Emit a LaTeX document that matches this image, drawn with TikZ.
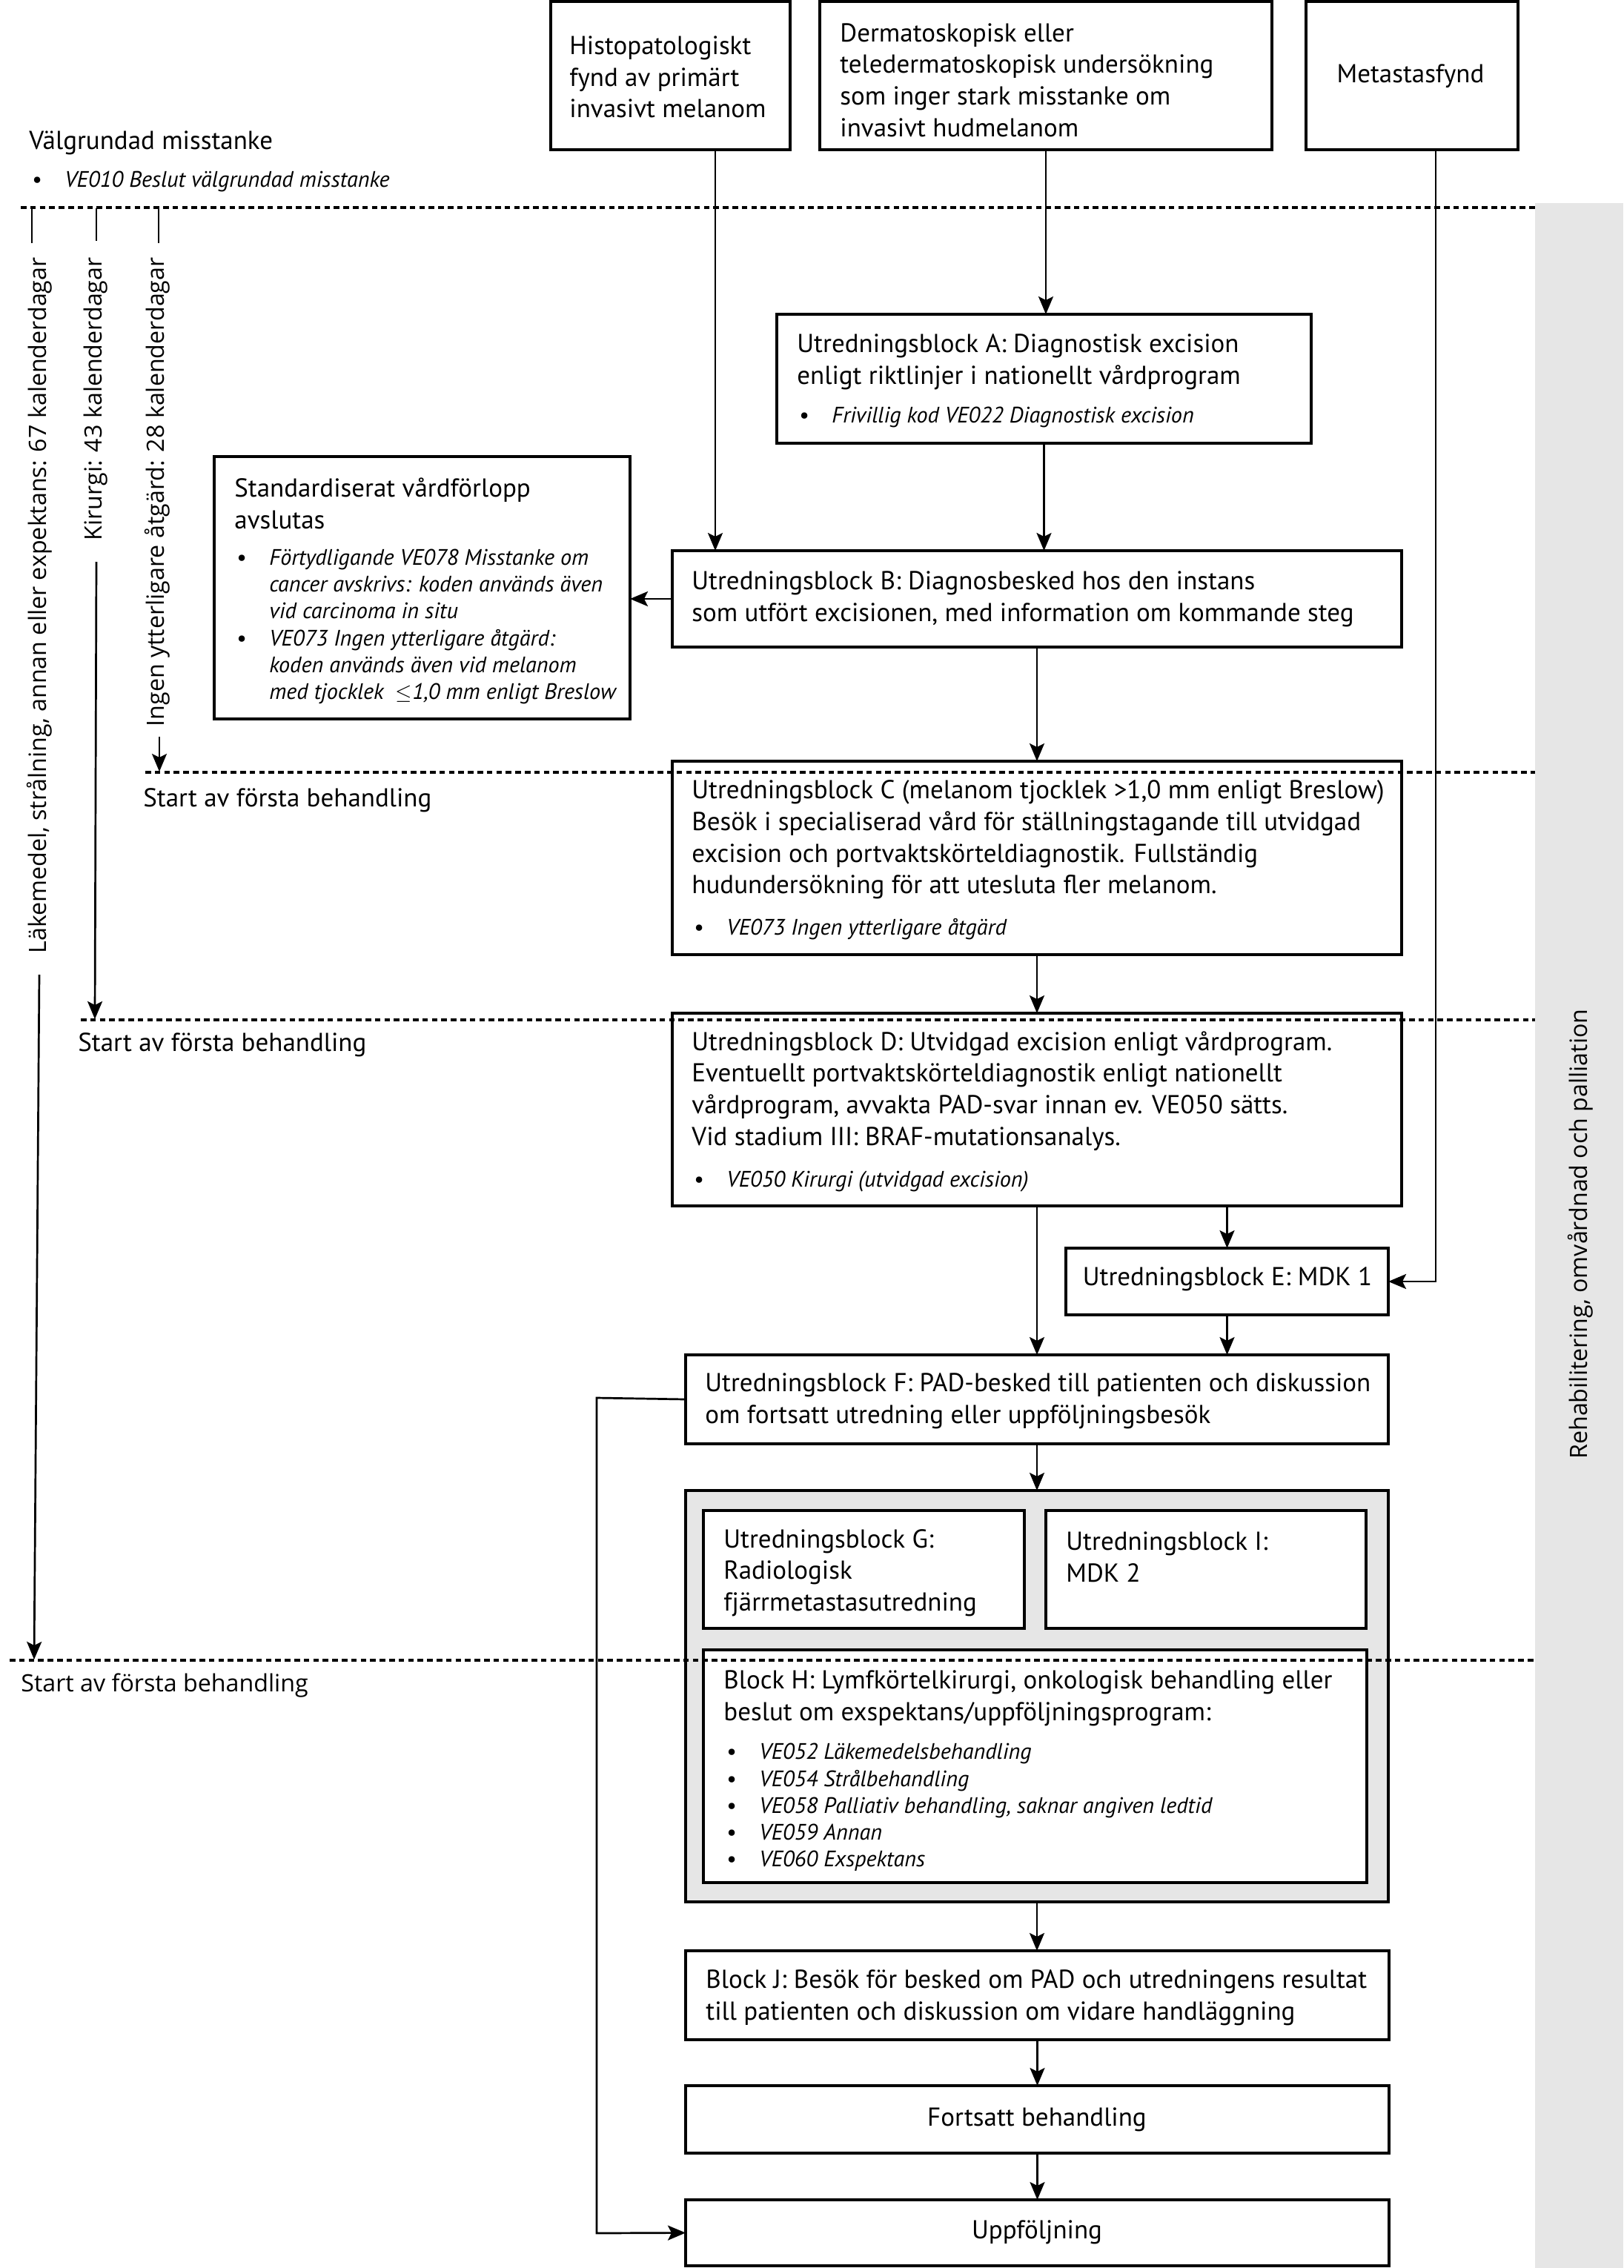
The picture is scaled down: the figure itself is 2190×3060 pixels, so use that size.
\documentclass[tikz,border=0pt]{standalone}
\usepackage{fontspec}
\setmainfont{PT Sans}
\newfontfamily\osans{Open Sans}
\usetikzlibrary{arrows.meta,fit}
\definecolor{bandgray}{HTML}{E6E6E6}
\definecolor{outergray}{HTML}{E6E6E6}
\newcommand{\bl}{\makebox[22pt][l]{\upshape •}}
\newcommand{\ind}{\hspace*{22pt}}
\begin{document}
\begin{tikzpicture}[x=0.5pt,y=-0.5pt,
  boxnode/.style={draw, line width=2pt, fill=white, inner sep=0pt, outer sep=0pt},
  bandnode/.style={fill=bandgray, draw=none, inner sep=0pt},
  maintxt/.style={font=\fontsize{17.5}{21.3}\selectfont, align=left, inner sep=0pt, anchor=west},
  ctrtxt/.style={font=\fontsize{17.5}{21.3}\selectfont, align=center, inner sep=0pt},
  itxt/.style={font=\fontsize{15.1}{18.1}\selectfont\itshape, align=left, inner sep=0pt, anchor=west},
  rottxt/.style={font=\osans\fontsize{16.1}{19}\selectfont, rotate=90, inner sep=0pt},
  arrline/.style={-{Stealth[length=12pt,width=10pt,inset=2.5pt]}, line width=1.35pt},
  tickline/.style={line width=1.35pt},
  dashline/.style={dash pattern=on 3.8pt off 2.6pt, line width=1.8pt}
]
\useasboundingbox (0,0) rectangle (2190,3060);
% right band
\node[bandnode, fit={(2071,274)(2190,3060)}] (band) {};
\node[rottxt] (rehab) at (2132,1665) {Rehabilitering, omvårdnad och palliation};

% boxes
\node[boxnode, fit={(743,2)(1066,202)}] (histo) {};
\node[boxnode, fit={(1106,2)(1716,202)}] (derm) {};
\node[boxnode, fit={(1762,2)(2048,202)}] (meta) {};
\node[boxnode, fit={(1048,424)(1769,598)}] (A) {};
\node[boxnode, fit={(289,616)(850,970)}] (std) {};
\node[boxnode, fit={(907,743)(1891,873)}] (B) {};
\node[boxnode, fit={(907,1027)(1891,1288)}] (C) {};
\node[boxnode, fit={(907,1367)(1891,1627)}] (D) {};
\node[boxnode, fit={(1438,1684)(1873,1774)}] (E) {};
\node[boxnode, fit={(925,1828)(1873,1948)}] (F) {};
\node[boxnode, fill=outergray, fit={(925,2011)(1873,2566)}] (outer) {};
\node[boxnode, fit={(949,2038)(1382,2197)}] (G) {};
\node[boxnode, fit={(1411,2038)(1843,2197)}] (I) {};
\node[boxnode, fit={(949,2226)(1844,2540)}] (H) {};
\node[boxnode, fit={(925,2632)(1874,2752)}] (J) {};
\node[boxnode, fit={(925,2814)(1874,2905)}] (fort) {};
\node[boxnode, fit={(925,2968)(1874,3057)}] (uppf) {};

% texts
\node[maintxt] (valg) at (39,193) {Välgrundad misstanke};
\node[itxt] (ve010) at (43,245) {\bl VE010 Beslut välgrundad misstanke};
\node[maintxt] (histoT) at (768,104) {Histopatologiskt\\fynd av primärt\\invasivt melanom};
\node[maintxt] (dermT) at (1133,108) {Dermatoskopisk eller\\teledermatoskopisk undersökning\\som inger stark misstanke om\\invasivt hudmelanom};
\node[ctrtxt] (metaT) at (1903,103) {Metastasfynd};
\node[maintxt] (AT) at (1075,488) {Utredningsblock A: Diagnostisk excision\\enligt riktlinjer i nationellt vårdprogram};
\node[itxt] (AB) at (1078,563) {\bl Frivillig kod VE022 Diagnostisk excision};
\node[maintxt] (stdT) at (316,679.5) {Standardiserat vårdförlopp\\avslutas};
\node[itxt] (stdB) at (319,845.5) {\bl Förtydligande VE078 Misstanke om\\\ind cancer avskrivs: koden används även\\\ind vid carcinoma in situ\\\bl VE073 Ingen ytterligare åtgärd:\\\ind koden används även vid melanom\\\ind med tjocklek \ $\leq$1,0 mm enligt Breslow};
\node[maintxt] (BT) at (933,808.5) {Utredningsblock B: Diagnosbesked hos den instans\\som utfört excisionen, med information om kommande steg};
\node[maintxt] (CT) at (933,1133) {Utredningsblock C (melanom tjocklek >1,0 mm enligt Breslow)\\Besök i specialiserad vård för ställningstagande till utvidgad\\excision och portvaktskörteldiagnostik. Fullständig\\hudundersökning för att utesluta fler melanom.};
\node[itxt] (CB) at (936,1254) {\bl VE073 Ingen ytterligare åtgärd};
\node[maintxt] (DT) at (933,1472) {Utredningsblock D: Utvidgad excision enligt vårdprogram.\\Eventuellt portvaktskörteldiagnostik enligt nationellt\\vårdprogram, avvakta PAD-svar innan ev. VE050 sätts.\\Vid stadium III: BRAF-mutationsanalys.};
\node[itxt] (DB) at (936,1594) {\bl VE050 Kirurgi (utvidgad excision)};
\node[ctrtxt] (ET) at (1656,1726) {Utredningsblock E: MDK 1};
\node[maintxt] (FT) at (951,1890.5) {Utredningsblock F: PAD-besked till patienten och diskussion\\om fortsatt utredning eller uppföljningsbesök};
\node[maintxt] (GT) at (976,2122) {Utredningsblock G:\\Radiologisk\\fjärrmetastasutredning};
\node[maintxt] (IT) at (1438,2100.5) {Utredningsblock I:\\MDK 2};
\node[maintxt] (HT) at (976,2291) {Block H: Lymfkörtelkirurgi, onkologisk behandling eller\\beslut om exspektans/uppföljningsprogram:};
\node[itxt] (HB) at (980,2438.5) {\bl VE052 Läkemedelsbehandling\\\bl VE054 Strålbehandling\\\bl VE058 Palliativ behandling, saknar angiven ledtid\\\bl VE059 Annan\\\bl VE060 Exspektans};
\node[maintxt] (JT) at (952,2695) {Block J: Besök för besked om PAD och utredningens resultat\\till patienten och diskussion om vidare handläggning};
\node[ctrtxt] (fortT) at (1399,2860) {Fortsatt behandling};
\node[ctrtxt] (uppfT) at (1399,3012) {Uppföljning};

% start labels
\node[maintxt] (s1) at (193,1080) {Start av första behandling};
\node[maintxt] (s2) at (105,1410) {Start av första behandling};
\node[anchor=west, inner sep=0pt, font=\osans\fontsize{16.1}{19}\selectfont] (s3) at (28,2274) {Start av första behandling};

% timeline labels
\node[rottxt, anchor=east] (lak) at (53,347) {Läkemedel, strålning, annan eller expektans: 67 kalenderdagar};
\node[rottxt, anchor=east] (kir) at (129,347) {Kirurgi: 43 kalenderdagar};
\node[rottxt, anchor=east] (ing) at (212,347) {Ingen ytterligare åtgärd: 28 kalenderdagar};
\coordinate (t1a) at (43,281); \coordinate (t1b) at (43,328);
\coordinate (t2a) at (130,281); \coordinate (t2b) at (130,325);
\coordinate (t3a) at (214,281); \coordinate (t3b) at (214,328);
\draw[tickline] (t1a) -- (t1b);
\draw[tickline] (t2a) -- (t2b);
\draw[tickline] (t3a) -- (t3b);
\coordinate (l1) at (53,1315); \coordinate (l1e) at (46,2239);
\coordinate (k1) at (130,758); \coordinate (k1e) at (128,1375);
\coordinate (i1) at (215,994); \coordinate (i1e) at (215,1041);
\draw[arrline] (l1) -- (l1e);
\draw[arrline] (k1) -- (k1e);
\draw[arrline] (i1) -- (i1e);

% connectors
\coordinate (hx) at (965,0);
\coordinate (mx) at (1937,0);
\draw[arrline] (histo.south -| hx) -- (B.north -| hx);
\draw[arrline] (derm.south) -- (derm.south |- A.north);
\draw[arrline] (A.south) -- (A.south |- B.north);
\draw[arrline] (B.west) -- (std.east |- B.west);
\draw[arrline] (B.south) -- (B.south |- C.north);
\draw[arrline] (C.south) -- (C.south |- D.north);
\draw[arrline] (D.south) -- (D.south |- F.north);
\draw[arrline] (D.south -| E.north) -- (E.north);
\draw[arrline] (E.south) -- (E.south |- F.north);
\draw[arrline] (meta.south -| mx) |- (E.east);
\draw[arrline] (F.south) -- (F.south |- outer.north);
\draw[arrline] (outer.south) -- (outer.south |- J.north);
\draw[arrline] (J.south) -- (J.south |- fort.north);
\draw[arrline] (fort.south) -- (fort.south |- uppf.north);
\coordinate (fb1) at (805,1886);
\coordinate (fb2) at (805,3013);
\draw[arrline] (F.west) -- (fb1) -- (fb2) -- (uppf.west);

% dashed lines
\coordinate (d1a) at (28,280); \coordinate (d1b) at (2071,280);
\coordinate (d2a) at (196,1042); \coordinate (d2b) at (2071,1042);
\coordinate (d3a) at (109,1376); \coordinate (d3b) at (2071,1376);
\coordinate (d4a) at (13,2240); \coordinate (d4b) at (2071,2240);
\draw[dashline] (d1a) -- (d1b);
\draw[dashline] (d2a) -- (d2b);
\draw[dashline] (d3a) -- (d3b);
\draw[dashline] (d4a) -- (d4b);
\end{tikzpicture}
\end{document}
